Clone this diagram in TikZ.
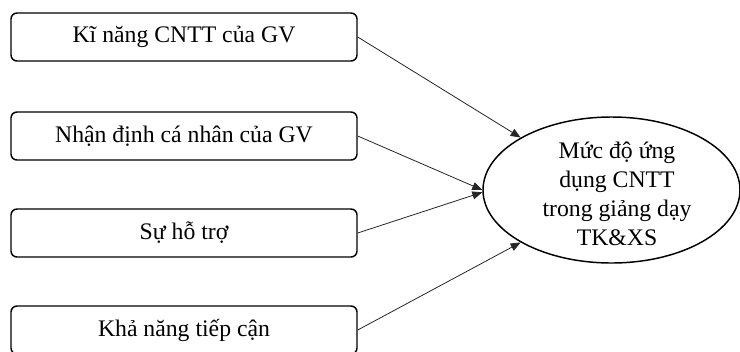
\documentclass[tikz,border=0pt]{standalone}
\usepackage{fontspec}
\setmainfont{Liberation Serif}
\usetikzlibrary{arrows.meta,shapes.geometric}
\tikzset{
  factor/.style={draw=black, line width=1.1pt, rounded corners=4.5pt, minimum width=346*0.75pt, minimum height=48*0.75pt, inner sep=0pt, font=\fontsize{17.8pt}{21.75pt}\selectfont},
  outcome/.style={draw=black, line width=1.1pt, ellipse, minimum width=257*0.75pt, minimum height=146*0.75pt, inner sep=0pt},
  outtext/.style={align=center, inner sep=0pt, font=\fontsize{17.8pt}{21.75pt}\selectfont},
  link/.style={draw=black!85, line width=0.6pt, -{Triangle[length=7.5pt, width=6pt]}}
}
\begin{document}
\begin{tikzpicture}[x=0.75pt, y=-0.75pt]
\useasboundingbox (0,0) rectangle (740,351);
\node[factor] (b1) at (184,37) {Kĩ năng CNTT của GV};
\node[factor] (b2) at (184,136) {Nhận định cá nhân của GV};
\node[factor] (b3) at (184,233) {Sự hỗ trợ};
\node[factor] (b4) at (184,330) {Khả năng tiếp cận};
\node[outcome] (e) at (611.5,190) {};
\node[outtext] (et) at (617,194) {Mức độ ứng\\dụng CNTT\\trong giảng dạy\\TK\&XS};
\draw[link] (b1.east) -- (e.150);
\draw[link] (b2.east) -- (e.180);
\draw[link] (b3.east) -- (e.181);
\draw[link] (b4.east) -- (e.210);
\end{tikzpicture}
\end{document}
